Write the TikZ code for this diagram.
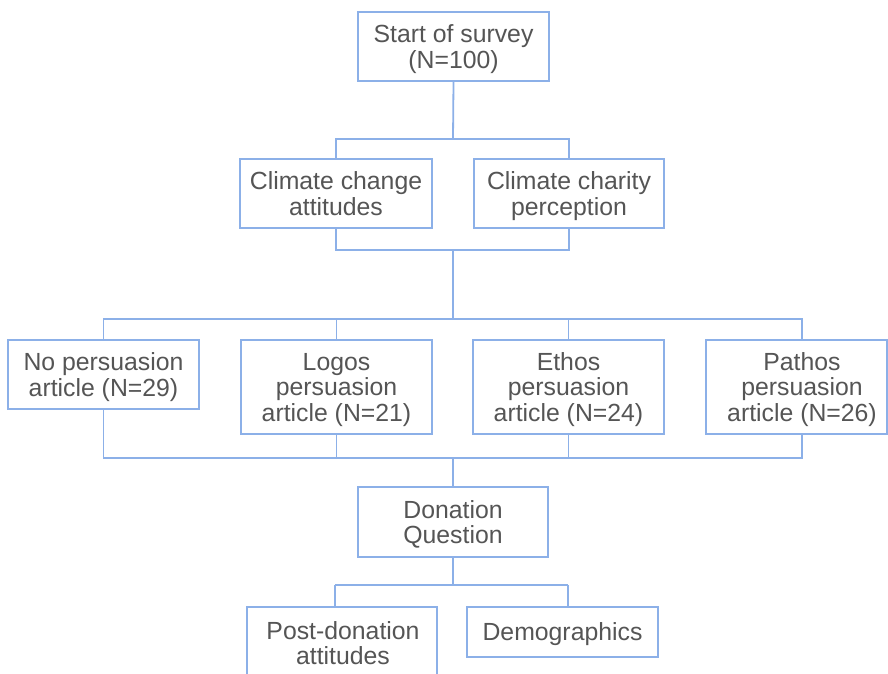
\documentclass[tikz,border=0pt]{standalone}
\usepackage{fontspec}
\setmainfont{Liberation Sans}
\definecolor{linec}{RGB}{140,176,232}
\definecolor{txtc}{RGB}{85,85,85}
\newcommand\zt{\rule{0pt}{23pt}}
\newcommand\zb{\rule[-5pt]{0pt}{5pt}}
\begin{document}
\begin{tikzpicture}[x=1pt,y=-1pt,
  box/.style={draw=linec, line width=1.8pt, fill=white, inner sep=0pt, align=center, text=txtc,
    font=\fontsize{24.8}{25.5}\selectfont},
  txt/.style={inner sep=0pt, align=center, text=txtc, font=\fontsize{24.8}{25.5}\selectfont},
  conn/.style={draw=linec, line width=1.8pt}]
\clip (0,0) rectangle (888,673);
\fill[white] (0,0) rectangle (888,673);
% junctions
\coordinate (j1) at (453,139);
\coordinate (j2) at (453,250);
\coordinate (j3) at (453,319);
\coordinate (j4) at (453,458);
\coordinate (j5) at (453,585);
\coordinate (p1) at (802,319);
\coordinate (p2) at (802,458);
\coordinate (k1) at (335,585);
\coordinate (k2) at (568,585);
\node[box, minimum width=191, minimum height=69] (start) at (453.5,46.5) {\zt Start of survey\\(N=100)\zb};
\node[box, minimum width=192, minimum height=69] (cca) at (336,193.5) {\zt Climate change\\attitudes\zb};
\node[box, minimum width=190, minimum height=69] (ccp) at (569,193.5) {\zt Climate charity\\perception\zb};
\node[box, minimum width=191, minimum height=69] (nop) at (103.5,374.5) {\zt No persuasion\\article (N=29)\zb};
\node[box, minimum width=191, minimum height=94] (logos) at (336.5,387) {\zt Logos\\persuasion\\article (N=21)\zb};
\node[box, minimum width=191, minimum height=94] (ethos) at (568.5,387) {\zt Ethos\\persuasion\\article (N=24)\zb};
\node[box, minimum width=181, minimum height=94] (pathos) at (796.5,387) {};
\node[txt] (pathost) at (802,387) {\zt Pathos\\persuasion\\article (N=26)\zb};
\node[box, minimum width=190, minimum height=70] (don) at (453,522) {\zt Donation\\Question\zb};
\node[box, minimum width=190, minimum height=72] (post) at (342,643) {};
\node[txt] (postt) at (343,643) {\zt Post-donation\\attitudes\zb};
\node[box, minimum width=191, minimum height=50] (demo) at (562.5,632) {\zt Demographics\zb};
\begin{scope}[conn]
\draw (start.south) -- (j1);
\draw (cca.north) |- (j1) -| (ccp.north);
\draw (cca.south) |- (j2) -| (ccp.south);
\draw (j2) -- (j3);
\draw (nop.north) |- (j3);
\draw (logos.north) |- (j3);
\draw (j3) -| (ethos.north);
\draw (j3) -- (p1) -- (p1 |- pathos.north);
\draw (nop.south) |- (j4);
\draw (logos.south) |- (j4);
\draw (j4) -| (ethos.south);
\draw (j4) -- (p2) -- (p2 |- pathos.south);
\draw (j4) -- (don.north);
\draw (don.south) -- (j5);
\draw (k1) -- (k2);
\draw (k1) -- (k1 |- post.north);
\draw (k2) -- (k2 |- demo.north);
\end{scope}
\end{tikzpicture}
\end{document}
